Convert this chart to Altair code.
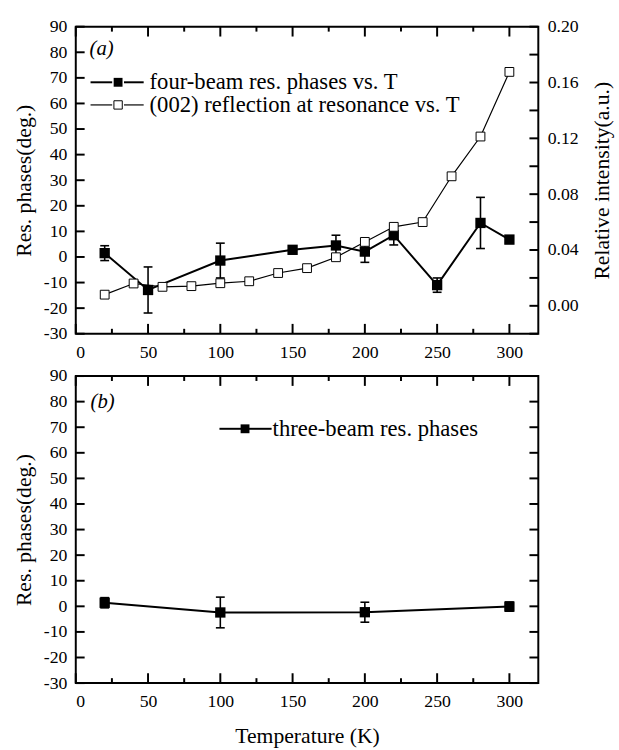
import altair as alt
import pandas as pd

# ---- panel (a): four-beam resonant phases vs temperature ----
t_four = [20, 50, 100, 150, 180, 200, 220, 250, 280, 300]
phase_four = [1.5, -12.9, -1.4, 2.8, 4.5, 2.1, 8.5, -11.0, 13.3, 6.8]
err_four = [2.9, 9.0, 6.8, 1.5, 4.0, 4.2, 3.8, 2.8, 10.0, 1.5]

# ---- panel (a): (002) reflection intensity at resonance vs temperature ----
t_refl = [20, 40, 60, 80, 100, 120, 140, 160, 180, 200, 220, 240, 260, 280, 300]
int_refl = [0.008, 0.016, 0.0136, 0.0141, 0.0162, 0.0176, 0.0235, 0.027,
            0.0348, 0.0458, 0.0566, 0.060, 0.0928, 0.1213, 0.1676]

# ---- panel (b): three-beam resonant phases ----
t_three = [20, 100, 200, 300]
phase_three = [1.4, -2.4, -2.3, -0.1]
err_three = [2.0, 6.0, 3.9, 1.8]

# ---- axis ticks and text ----
x_major = [0, 50, 100, 150, 200, 250, 300]
x_minor = [25, 75, 125, 175, 225, 275]
y_ticks = [-30, -20, -10, 0, 10, 20, 30, 40, 50, 60, 70, 80, 90]
r_ticks = [-0.02, 0.0, 0.02, 0.04, 0.06, 0.08, 0.10, 0.12, 0.14, 0.16, 0.18, 0.20]
r_labels = [0.0, 0.04, 0.08, 0.12, 0.16, 0.20]
legend_a = ["four-beam res. phases vs. T", "(002) reflection at resonance vs. T"]
legend_b = ["three-beam res. phases"]
panel_tags = ["(a)", "(b)"]
x_title = "Temperature (K)"
y_title = "Res. phases(deg.)"
r_title = "Relative intensity(a.u.)"

FONT = "Liberation Serif"
W, H = 470, 312
LEG_SIZE = 23

x_scale = alt.Scale(domain=[0, 320], nice=False, zero=False)
y_scale = alt.Scale(domain=[-30, 90], nice=False, zero=False)
r_scale = alt.Scale(domain=[-0.02, 0.20], nice=False, zero=False)

four = pd.DataFrame({"t": t_four, "phase": phase_four, "err": err_four})
four["lo"] = four["phase"] - four["err"]
four["hi"] = four["phase"] + four["err"]
refl = pd.DataFrame({"t": t_refl, "intensity": int_refl})
three = pd.DataFrame({"t": t_three, "phase": phase_three, "err": err_three})
three["lo"] = three["phase"] - three["err"]
three["hi"] = three["phase"] + three["err"]

one = pd.DataFrame({"k": [0]})


def x_axis(title):
    return alt.Axis(values=x_major, format="d", title=title, labelPadding=10, titlePadding=15)


phase_axis = alt.Axis(values=y_ticks, labelExpr="'' + datum.value", title=y_title,
                      labelPadding=9, titlePadding=8)


def phase_series(df, xa, ya_main, ya_rest):
    """Line, error bars with caps and filled squares for a phase series."""
    X = alt.X("t:Q", scale=x_scale, axis=xa)
    line = alt.Chart(df).mark_line(color="black", strokeWidth=2).encode(
        x=X, y=alt.Y("phase:Q", scale=y_scale, axis=ya_main))
    bars = alt.Chart(df).mark_rule(color="black", strokeWidth=1.6).encode(
        x=X, y=alt.Y("lo:Q", scale=y_scale, axis=ya_rest), y2="hi:Q")
    cap = alt.Chart(df).mark_tick(color="black", orient="horizontal", size=9, thickness=1.6, opacity=1)
    cap_lo = cap.encode(x=X, y=alt.Y("lo:Q", scale=y_scale, axis=ya_rest))
    cap_hi = cap.encode(x=X, y=alt.Y("hi:Q", scale=y_scale, axis=ya_rest))
    pts = alt.Chart(df).mark_point(shape="square", filled=True, color="black", size=110, opacity=1).encode(
        x=X, y=alt.Y("phase:Q", scale=y_scale, axis=ya_rest))
    return [line, bars, cap_lo, cap_hi, pts]


def frame_ticks(xa, ya, right_scale=None):
    """Inward-pointing ticks on all four sides of a panel."""
    X = alt.X("t:Q", scale=x_scale, axis=xa)
    out = []
    for vals, L in ((x_major, 10), (x_minor, 5)):
        base = alt.Chart(pd.DataFrame({"t": vals})).mark_rule(color="black", strokeWidth=2).encode(x=X)
        out.append(base.encode(y=alt.value(H), y2=alt.value(H - L)))
        out.append(base.encode(y=alt.value(0), y2=alt.value(L)))
    yt = alt.Chart(pd.DataFrame({"v": y_ticks})).mark_rule(color="black", strokeWidth=2).encode(
        y=alt.Y("v:Q", scale=y_scale, axis=ya))
    out.append(yt.encode(x=alt.value(0), x2=alt.value(9)))
    if right_scale is None:
        out.append(yt.encode(x=alt.value(W - 9), x2=alt.value(W)))
    else:
        rt = alt.Chart(pd.DataFrame({"v": r_ticks})).mark_rule(color="black", strokeWidth=2).encode(
            y=alt.Y("v:Q", scale=right_scale, axis=None), x=alt.value(W - 9), x2=alt.value(W))
        out.append(rt)
    return out


def legend_row(label, y, x_line0, x_sq, x_line1, x_text, open_square=False, gap=2, sw=2):
    out = []
    seg = alt.Chart(one).mark_rule(color="black", strokeWidth=sw)
    out.append(seg.encode(x=alt.value(x_line0), x2=alt.value(x_sq - gap - 4), y=alt.value(y)))
    out.append(seg.encode(x=alt.value(x_sq + gap + 4), x2=alt.value(x_line1), y=alt.value(y)))
    if open_square:
        sym = alt.Chart(one).mark_point(shape="square", filled=True, fill="white", stroke="black",
                                        strokeWidth=1, size=72, opacity=1)
    else:
        sym = alt.Chart(one).mark_point(shape="square", filled=True, color="black", size=81, opacity=1)
    out.append(sym.encode(x=alt.value(x_sq), y=alt.value(y)))
    txt = alt.Chart(pd.DataFrame({"label": [label]})).mark_text(
        align="left", baseline="middle", font=FONT, fontSize=LEG_SIZE, color="black").encode(
        x=alt.value(x_text), y=alt.value(y), text="label:N")
    out.append(txt)
    return out


def tag(label, x, y):
    return alt.Chart(pd.DataFrame({"label": [label]})).mark_text(
        align="left", baseline="middle", font=FONT, fontSize=21, fontStyle="italic", color="black").encode(
        x=alt.value(x), y=alt.value(y), text="label:N")


# ---- panel (a) ----
xa_top = x_axis(None)
X_top = alt.X("t:Q", scale=x_scale, axis=xa_top)
refl_line = alt.Chart(refl).mark_line(color="black", strokeWidth=1.2).encode(
    x=X_top,
    y=alt.Y("intensity:Q", scale=r_scale,
            axis=alt.Axis(orient="right", values=r_labels, format=".2f", labelPadding=9,
                          title=r_title, titleAngle=270, titleBaseline="top", titlePadding=14)))
refl_pts = alt.Chart(refl).mark_point(shape="square", filled=True, fill="white", stroke="black",
                                      strokeWidth=1, size=80, opacity=1).encode(
    x=X_top, y=alt.Y("intensity:Q", scale=r_scale, axis=None))

layers_a = (phase_series(four, xa_top, phase_axis, None) + [refl_line, refl_pts]
            + frame_ticks(xa_top, None, r_scale)
            + legend_row(legend_a[0], 56.5, 15, 43, 69, 75)
            + legend_row(legend_a[1], 79.5, 15, 43, 69, 75, open_square=True, sw=1.2)
            + [tag(panel_tags[0], 14, 22.6)])
panel_a = alt.layer(*layers_a).properties(width=W, height=H).resolve_scale(y="independent")

# ---- panel (b) ----
xa_bot = x_axis(x_title)
layers_b = (phase_series(three, xa_bot, phase_axis, phase_axis)
            + frame_ticks(xa_bot, phase_axis)
            + legend_row(legend_b[0], 53.6, 146, 172, 199, 200, gap=0)
            + [tag(panel_tags[1], 15, 26)])
panel_b = alt.layer(*layers_b).properties(width=W, height=H)

chart = alt.vconcat(panel_a, panel_b, spacing=43, bounds="flush",
                    padding={"left": 12, "top": 11, "right": 5, "bottom": 5}).configure_view(
    stroke="black", strokeWidth=2).configure_axis(
    labelFont=FONT, titleFont=FONT, labelFontSize=18, titleFontSize=22,
    labelColor="black", titleColor="black", titleFontWeight="normal",
    grid=False, ticks=False, tickSize=0, domain=False)

chart.save("out.html", embed_options={"renderer": "svg", "actions": False})
